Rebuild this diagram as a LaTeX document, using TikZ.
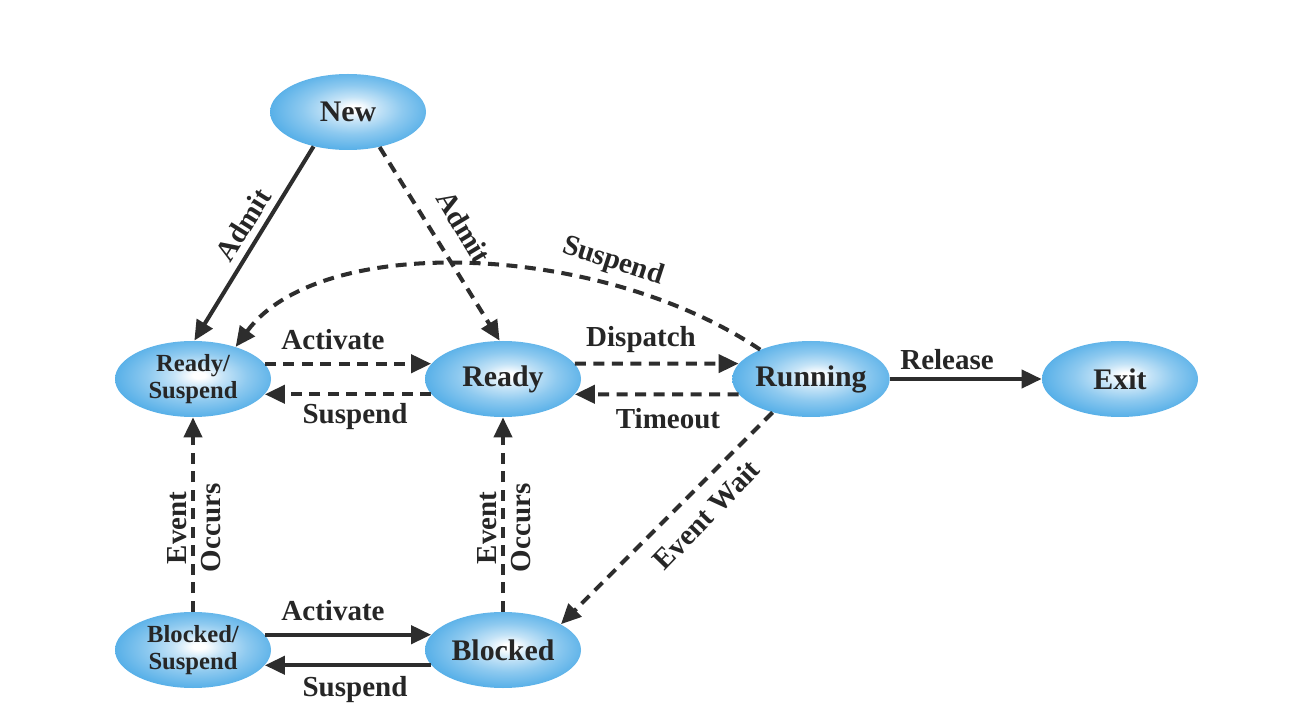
\documentclass[tikz,border=0pt]{standalone}
\usepackage{fontspec}
\setmainfont{Liberation Serif}
\usetikzlibrary{shapes.geometric,arrows.meta,calc}
\definecolor{stateblue}{RGB}{88,176,232}
\definecolor{arrowgray}{RGB}{45,45,45}
\pgfdeclareradialshading{stateshade}{\pgfpoint{2bp}{2.5bp}}{color(0bp)=(white); color(2bp)=(white); color(8bp)=(stateblue!35); color(16bp)=(stateblue!68); color(26bp)=(stateblue); color(50bp)=(stateblue)}
\tikzstyle{state}=[ellipse,minimum width=3.12cm,minimum height=1.52cm,inner sep=0pt,shading=stateshade,font=\fontsize{17}{17}\selectfont\bfseries,text=black!85,align=center]
\tikzstyle{smallstate}=[state,font=\fontsize{14}{15.5}\selectfont\bfseries]
\tikzstyle{trans}=[line width=2.3pt,draw=arrowgray,-{Triangle[length=0.4cm,width=0.36cm]}]
\tikzstyle{dashtrans}=[trans,dash pattern=on 0.22cm off 0.15cm]
\tikzstyle{lbl}=[font=\fontsize{16.5}{19}\selectfont\bfseries,text=black!85,inner sep=0pt,align=center]

\begin{document}
\begin{tikzpicture}
\fill[white] (0,0) rectangle (26.18,14.34);
\useasboundingbox (0,0) rectangle (26.18,14.34);

% states
\node[state] (new) at (6.96,12.10) {New};
\node[smallstate] (rs) at (3.86,6.76) {Ready/\\Suspend};
\node[state] (ready) at (10.06,6.76) {Ready};
\node[state] (run) at (16.22,6.76) {Running};
\node[state] (exit) at (22.40,6.76) {Exit};
\node[smallstate] (bs) at (3.86,1.34) {Blocked/\\Suspend};
\node[state] (blk) at (10.06,1.34) {Blocked};

% transitions
\draw[trans] (new.225) -- (rs.88);
\draw[dashtrans] (new.312) -- (ready.95);
\draw[dashtrans] (run.150) .. controls (12.0,9.5) and (6.4,9.7) .. (rs.37);
\draw[dashtrans] (rs.12) -- (ready.168);
\draw[dashtrans] (ready.192) -- (rs.-12);
\draw[dashtrans] (ready.12) -- (run.168);
\draw[dashtrans] (run.192) -- (ready.-12);
\draw[trans] (run.east) -- (exit.west);
\draw[dashtrans] (bs.north) -- (rs.south);
\draw[dashtrans] (blk.north) -- (ready.south);
\draw[dashtrans] (run.221) -- (blk.24);
\draw[trans] (bs.12) -- (blk.168);
\draw[trans] (blk.192) -- (bs.-12);

% labels
\node[lbl,rotate=58] (l1) at (4.86,9.84) {Admit};
\node[lbl,rotate=-59] (l2) at (9.28,9.80) {Admit};
\node[lbl,rotate=-18] (l3) at (12.26,9.10) {Suspend};
\node[lbl] (l4) at (6.66,7.54) {Activate};
\node[lbl] (l5) at (7.10,6.00) {Suspend};
\node[lbl] (l6) at (12.82,7.54) {Dispatch};
\node[lbl] (l7) at (13.36,5.96) {Timeout};
\node[lbl] (l8) at (18.94,7.14) {Release};
\node[lbl,rotate=90] (l9) at (3.88,3.78) {Event\\Occurs};
\node[lbl,rotate=90] (l10) at (10.08,3.78) {Event\\Occurs};
\node[lbl,rotate=46] (l11) at (14.12,4.04) {Event Wait};
\node[lbl] (l12) at (6.66,2.12) {Activate};
\node[lbl] (l13) at (7.10,0.54) {Suspend};
\end{tikzpicture}
\end{document}
